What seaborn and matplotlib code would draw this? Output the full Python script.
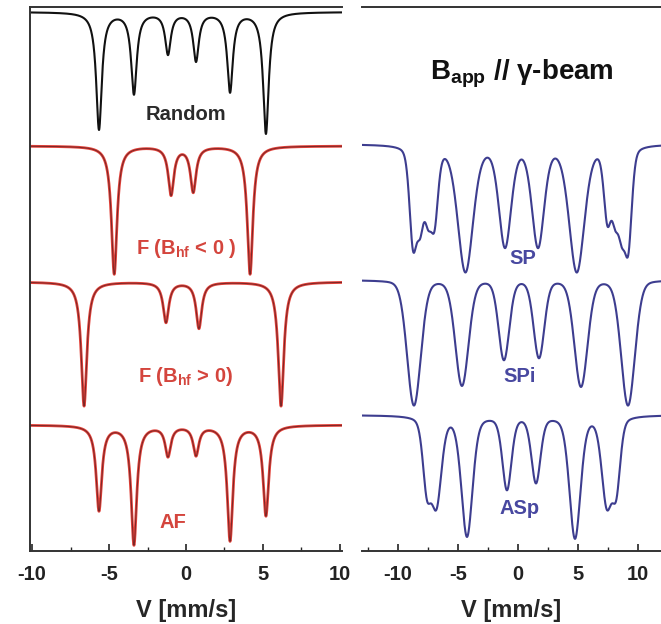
import numpy as np
import pandas as pd
import matplotlib
matplotlib.use("Agg")
import matplotlib.pyplot as plt
from matplotlib.ticker import MultipleLocator
import seaborn as sns

sns.set_theme(style="white")
plt.rcParams['font.family'] = ['Liberation Sans', 'DejaVu Sans']
plt.rcParams['mathtext.fontset'] = 'custom'
plt.rcParams['mathtext.rm'] = 'Liberation Sans:bold'
plt.rcParams['mathtext.bf'] = 'Liberation Sans:bold'
plt.rcParams['mathtext.it'] = 'Liberation Sans:bold'

# ---------------- data: sextet line parameters ----------------
# positions (mm/s), absorption depths (arb.), full widths (mm/s)
random_pos   = [-5.65, -3.38, -1.17, 0.65, 2.86, 5.19]
random_depth = [117, 81, 41, 48, 79, 121]
random_fwhm  = [0.44, 0.44, 0.44, 0.44, 0.44, 0.44]

fneg_pos   = [-4.66, -0.97, 0.47, 4.16]
fneg_depth = [128, 48, 45, 128]
fneg_fwhm  = [0.44, 0.44, 0.44, 0.44]

fpos_pos   = [-6.62, -1.30, 0.84, 6.17]
fpos_depth = [124, 40, 46, 124]
fpos_fwhm  = [0.44, 0.44, 0.44, 0.44]

af_pos   = [-5.65, -3.38, -1.17, 0.65, 2.86, 5.19]
af_depth = [85, 119, 30, 29, 115, 90]
af_fwhm  = [0.44, 0.44, 0.44, 0.44, 0.44, 0.44]

sp_pos   = [-8.75, -8.15, -7.50, -6.95, -4.38, -1.08, 1.67, 4.90, 7.45, 8.10, 8.65, 9.20]
sp_depth = [92, 68, 58, 68, 126, 100, 100, 126, 68, 58, 68, 92]
sp_fwhm  = [0.70, 0.70, 0.70, 0.70, 1.50, 1.20, 1.20, 1.50, 0.70, 0.70, 0.70, 0.70]

spi_pos   = [-8.67, -4.67, -1.17, 1.75, 5.25, 9.17]
spi_depth = [125, 105, 79, 77, 106, 125]
spi_fwhm  = [1.35, 1.30, 1.05, 1.05, 1.30, 1.35]

asp_pos   = [-7.60, -6.80, -4.25, -0.92, 1.50, 4.75, 7.40, 8.20]
asp_depth = [66, 86, 120, 73, 66, 122, 86, 66]
asp_fwhm  = [0.80, 1.00, 1.10, 0.90, 0.90, 1.10, 1.00, 0.80]

labels_left = ["Random", r"F (B$_{\mathregular{hf}}$ < 0 )", r"F (B$_{\mathregular{hf}}$ > 0)", "AF"]
labels_right = ["SP", "SPi", "ASp"]
title = r"B$_{\mathregular{app}}$ // γ-beam"
xticks = [-10, -5, 0, 5, 10]


def spectrum(v, pos, depth, fwhm, base, eta):
    y = np.full_like(v, base, dtype=float)
    for p, d, w in zip(pos, depth, fwhm):
        g = np.exp(-4 * np.log(2) * (v - p) ** 2 / w**2)
        lo = (w / 2) ** 2 / ((v - p) ** 2 + (w / 2) ** 2)
        y -= d * (eta * lo + (1 - eta) * g)
    return y


fig = plt.figure(figsize=(6.61, 6.24), dpi=100)
W, H = 661, 624
axL = fig.add_axes([30 / W, (H - 551) / H, (342 - 30) / W, (551 - 7) / H])
axR = fig.add_axes([362 / W, (H - 551) / H, (661 - 362) / W, (551 - 7) / H])

vL = np.linspace(-10.2, 10.2, 6000)
vR = np.linspace(-13.2, 12.2, 6000)

red = "#e2423a"
dark_red = "#7a2626"
blue = "#3d3d8f"

left_specs = [
    (random_pos, random_depth, random_fwhm, 539, "#111111", None),
    (fneg_pos, fneg_depth, fneg_fwhm, 405, red, dark_red),
    (fpos_pos, fpos_depth, fpos_fwhm, 269, red, dark_red),
    (af_pos, af_depth, af_fwhm, 126, red, dark_red),
]
for pos, dep, wid, base, c1, c2 in left_specs:
    y = spectrum(vL, pos, dep, wid, base, 1.0)
    df = pd.DataFrame({"v": vL, "y": y})
    sns.lineplot(data=df, x="v", y="y", ax=axL, color=c1, lw=2.0 if c2 else 1.5,
                 estimator=None, sort=False)
    if c2:
        sns.lineplot(data=df, x="v", y="y", ax=axL, color=c2, lw=0.7,
                     estimator=None, sort=False)

right_specs = [
    (sp_pos, sp_depth, sp_fwhm, 407, 0.3),
    (spi_pos, spi_depth, spi_fwhm, 271, 0.15),
    (asp_pos, asp_depth, asp_fwhm, 136, 0.3),
]
for pos, dep, wid, base, eta in right_specs:
    y = spectrum(vR, pos, dep, wid, base, eta)
    df = pd.DataFrame({"v": vR, "y": y})
    sns.lineplot(data=df, x="v", y="y", ax=axR, color=blue, lw=1.5,
                 estimator=None, sort=False)

# text labels
lab_kw = dict(ha="center", va="center", fontsize=14.5, fontweight="bold")
axL.text(0, 436, labels_left[0], color="#2a2a2a", **lab_kw)
axL.text(0, 303, labels_left[1], color="#d4453d", **lab_kw)
axL.text(0, 174, labels_left[2], color="#d4453d", **lab_kw)
axL.text(-0.85, 29, labels_left[3], color="#d4453d", **lab_kw)

axR.text(0.4, 293, labels_right[0], color="#4848a0", **lab_kw)
axR.text(0.15, 174, labels_right[1], color="#4848a0", **lab_kw)
axR.text(0.15, 43, labels_right[2], color="#4848a0", **lab_kw)

axR.text(0.33, 477, title, ha="center", va="center",
         fontsize=20, fontweight="bold", color="#111111")

for ax, xl in ((axL, (-10.13, 10.13)), (axR, (-13.0, 11.92))):
    ax.set_xlim(*xl)
    ax.set_ylim(0, 544)
    ax.set_xticks(xticks)
    ax.set_xticklabels([str(t) for t in xticks])
    ax.xaxis.set_minor_locator(MultipleLocator(2.5))
    ax.set_yticks([])
    ax.set_ylabel("")
    ax.set_xlabel("V [mm/s]", fontsize=17, fontweight="bold", labelpad=11)
    ax.tick_params(axis="x", which="major", direction="in", length=5, width=1.2,
                   labelsize=14.5, pad=10, colors="#222222", bottom=True)
    ax.tick_params(axis="x", which="minor", direction="in", length=3, width=1.0,
                   bottom=True)
    for lbl in ax.get_xticklabels():
        lbl.set_fontweight("bold")
    ax.set_facecolor("white")
    for s in ax.spines.values():
        s.set_color("#333333")
        s.set_linewidth(1.4)
    ax.spines["right"].set_visible(False)

axR.spines["left"].set_visible(False)

fig.savefig("out.png", dpi=100, facecolor="white")
